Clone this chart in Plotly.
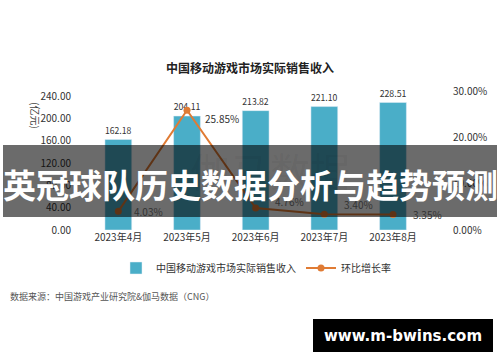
import plotly.graph_objects as go

months = ["2023年4月", "2023年5月", "2023年6月", "2023年7月", "2023年8月"]
revenue = [162.18, 204.11, 213.82, 221.10, 228.51]
growth = [0.0403, 0.2585, 0.0476, 0.0340, 0.0335]
left_ticks = [0, 40, 80, 120, 160, 200, 240]
right_ticks = [0, 0.10, 0.20, 0.30]

FONT = "Noto Sans CJK SC"
BAR_C = "#4aaec8"
LINE_C = "#e07b34"

W, H = 500, 362
L, R, T, B = 84, 56, 91, 132
PW, PH = W - L - R, H - T - B


def px(x):
    return (x - L) / PW


def py(y):
    return (H - B - y) / PH


fig = go.Figure()
fig.add_trace(go.Bar(
    x=months, y=revenue, name="中国移动游戏市场实际销售收入",
    marker=dict(color=BAR_C), width=0.39,
    text=[f"{v:.2f}" for v in revenue], textposition="outside",
    textfont=dict(size=10, color="#333", family=FONT), cliponaxis=False,
))
fig.add_trace(go.Scatter(
    x=months, y=growth, name="环比增长率", yaxis="y2",
    mode="lines+markers",
    line=dict(color=LINE_C, width=2), marker=dict(size=7, color=LINE_C),
    cliponaxis=False,
))

# growth labels placed at each data point with a small offset
label_shift_x = [14, 16, 17, 18, 18]
label_shift_y = [0, -8, 6, 10, 0]
for m, g, sx, sy in zip(months, growth, label_shift_x, label_shift_y):
    fig.add_annotation(x=m, y=g, xref="x", yref="y2", text=f"{g:.2%}", showarrow=False,
                       xanchor="left", yanchor="middle", xshift=sx, yshift=sy,
                       font=dict(size=10, color="#333", family=FONT))

fig.update_layout(
    width=W, height=H,
    margin=dict(l=L, r=R, t=T, b=B),
    paper_bgcolor="white", plot_bgcolor="white",
    font=dict(family=FONT, size=10, color="#333"),
    title=dict(text="<b>中国移动游戏市场实际销售收入</b>", x=0.5, xanchor="center",
               y=1 - 69 / H, yanchor="middle", font=dict(size=12, color="#222")),
    xaxis=dict(showgrid=False, showline=False, ticks="", tickfont=dict(size=10, color="#333")),
    yaxis=dict(range=[0, 249], tickvals=left_ticks, tickformat=".2f", showgrid=False,
               zeroline=False, showline=False, tickfont=dict(size=10, color="#333"), ticklabelstandoff=12),
    yaxis2=dict(range=[0, 0.30], tickvals=right_ticks, tickformat=".2%", overlaying="y",
                side="right", showgrid=False, zeroline=False, showline=False,
                tickfont=dict(size=10, color="#333"), ticklabelstandoff=8),
    legend=dict(orientation="h", x=px(256), xanchor="center", y=py(268), yanchor="middle",
                font=dict(size=10, color="#333")),
)

fig.add_annotation(text="(亿元)", textangle=90, xref="paper", yref="paper", x=px(26), y=py(100),
                   showarrow=False, font=dict(size=10, color="#444"))
fig.add_annotation(text="数据来源：中国游戏产业研究院&伽马数据（CNG）", xref="paper", yref="paper",
                   x=px(8), y=py(296), xanchor="left", yanchor="middle", showarrow=False,
                   font=dict(size=9, color="#555"))
# faint source watermark
fig.add_annotation(text="伽马数据", xref="paper", yref="paper", x=px(270), y=py(170),
                   showarrow=False, font=dict(size=40, color="rgba(0,0,0,0.05)"))

# dark banner with overlay title
fig.add_shape(type="rect", xref="paper", yref="paper", x0=px(3), x1=px(497),
              y0=py(217), y1=py(145), fillcolor="rgba(0,0,0,0.58)", line=dict(width=0),
              layer="above")
fig.add_annotation(text="<b>英冠球队历史数据分析与趋势预测</b>", xref="paper", yref="paper",
                   x=px(250), y=py(184), xanchor="center", yanchor="middle", showarrow=False,
                   font=dict(size=33, color="white", family=FONT))
# site watermark
fig.add_shape(type="rect", xref="paper", yref="paper", x0=px(313), x1=px(493),
              y0=py(352), y1=py(319), fillcolor="black", line=dict(width=0), layer="above")
fig.add_annotation(text="<b>www.m-bwins.com</b>", xref="paper", yref="paper",
                   x=px(403), y=py(335.5), xanchor="center", yanchor="middle", showarrow=False,
                   font=dict(size=15, color="white", family="DejaVu Sans"))

fig.write_html("out.html", config={"displayModeBar": False},
               post_script="document.body.style.margin='0';")
